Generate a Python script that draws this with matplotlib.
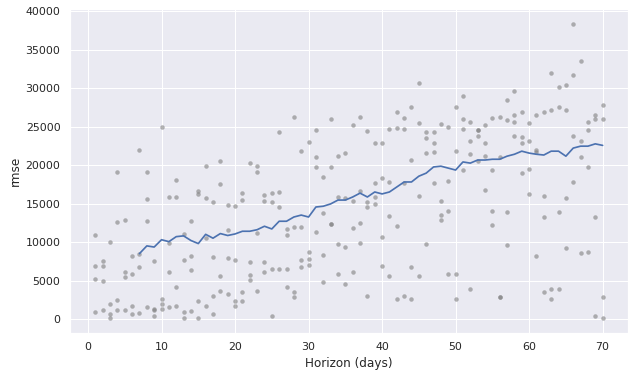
import numpy as np
import matplotlib
matplotlib.use("Agg")
import matplotlib.pyplot as plt
import seaborn as sns

# rmse of each individual forecast point, 4 per horizon day
horizon_days = list(range(1, 71))
point_rmse = [
    [10900, 7000, 5200, 900], [7600, 7000, 4950, 1200], [10100, 1950, 700, 250],
    [19150, 12650, 2500, 1200], [12950, 6200, 5450, 1200], [8300, 5950, 1700, 650],
    [22000, 8550, 6850, 800], [19150, 15650, 12800, 1550], [7650, 1400, 1200, 500],
    [24950, 2700, 2050, 1400], [15900, 9950, 6200, 1550], [18100, 15900, 4150, 1700],
    [11050, 7750, 900, 150], [12800, 8300, 6450, 1050], [16700, 16300, 2450, 150],
    [19900, 15800, 10600, 1700], [15250, 8150, 3100, 650], [20550, 17600, 5700, 3750],
    [14850, 11650, 8000, 3350], [14750, 7750, 2350, 1800], [16400, 15500, 3500, 2350],
    [20300, 7500, 5800, 5150], [19900, 19150, 11250, 3750], [16150, 15400, 7500, 6200],
    [16400, 15250, 6600, 400], [24300, 16550, 14600, 6600], [11750, 11000, 6600, 4250],
    [26250, 12000, 3500, 2850], [21850, 12000, 7750, 6850], [23000, 8800, 7900, 7100],
    [24550, 21100, 19800, 11400], [18500, 13850, 8400, 4900], [26000, 19800, 12400, 12400],
    [21200, 15900, 9850, 5950], [21600, 15750, 9450, 4550], [25200, 15400, 11900, 6100],
    [26250, 16700, 12550, 9950], [24450, 15250, 14600, 3000], [22900, 17700, 15900, 15000],
    [22900, 18350, 10750, 7000], [24700, 17850, 13450, 5700], [26900, 24800, 12150, 2700],
    [26100, 24700, 17700, 3100], [27550, 20700, 6850, 2700], [30650, 25450, 16050, 5700],
    [24300, 23550, 21600, 9850], [24300, 22900, 21700, 17700], [25350, 15400, 13600, 12950],
    [24950, 17950, 14100, 5950], [27550, 21850, 5950, 2700], [28950, 26000, 24700, 19400],
    [25600, 23150, 21450, 4000], [24550, 24550, 23800, 20550], [25200, 22900, 21200, 16800],
    [26100, 19400, 14100, 12300], [26250, 21100, 2850, 2850], [28550, 25850, 13950, 9700],
    [29600, 26500, 25600, 23800], [26900, 23650, 22900, 19000], [25450, 23150, 19500, 16300],
    [26500, 22000, 21700, 8300], [26900, 16050, 13300, 3600], [32050, 27150, 4000, 2700],
    [30150, 27650, 13950, 3900], [30500, 27150, 15750, 9300], [38400, 31800, 23800, 17850],
    [33500, 23150, 21100, 8650], [25600, 24550, 19800, 8800], [26500, 26000, 13300, 500],
    [27800, 26000, 2850, 150],
]

# rolling rmse (line)
line_days = list(range(7, 71))
line_rmse = [
    8550, 9550, 9400, 10350, 10100, 10750, 10850, 10250, 9850, 11050,
    10550, 11150, 10900, 11100, 11450, 11450, 11650, 12100, 11750, 12750,
    12750, 13300, 13550, 13300, 14600, 14700, 15000, 15500, 15500, 15900,
    16400, 15900, 16550, 16300, 16550, 17200, 17850, 17850, 18600, 19000,
    19800, 19900, 19650, 19400, 20450, 20300, 20700, 20700, 20800, 20800,
    21200, 21450, 21850, 21600, 21450, 21350, 21850, 21850, 21200, 22250,
    22500, 22500, 22800, 22600,
]

sns.set_theme(style="darkgrid")

fig = plt.figure(figsize=(633 / 72, 378 / 72), dpi=72)
ax = fig.add_axes([70 / 633, 45 / 378, 558 / 633, 324 / 378])

xs = np.repeat(horizon_days, 4)
ys = np.array(point_rmse).ravel()
ax.plot(xs, ys, 'o', color='gray', alpha=0.6, markersize=4.5, markeredgewidth=0)
ax.plot(line_days, line_rmse, '-', color='#4c72b0', linewidth=1.7)

ax.set_xlabel('Horizon (days)')
ax.set_ylabel('rmse')

fig.savefig('out.png', dpi=72)
